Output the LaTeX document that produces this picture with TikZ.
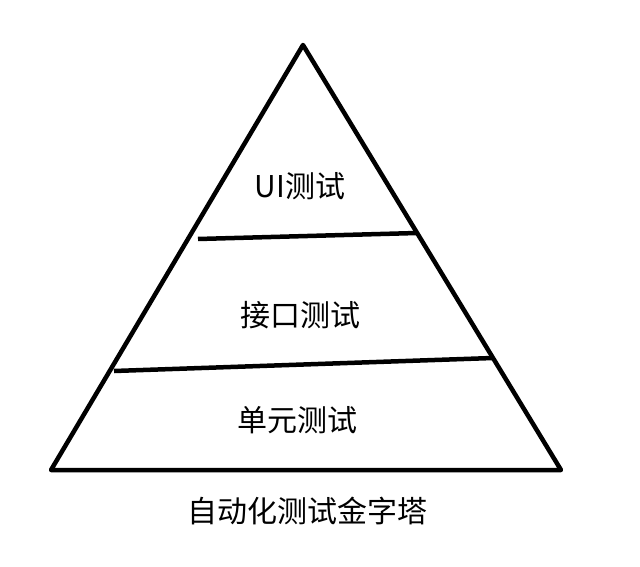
\documentclass[tikz,border=0pt]{standalone}
\usepackage{fontspec}
\newfontfamily\cjk{Noto Sans CJK SC}
\begin{document}
\begin{tikzpicture}[x=1pt,y=-1pt,
  edge/.style={line width=4.5pt,line join=round,line cap=round},
  lbl/.style={font=\cjk\fontsize{30}{33}\selectfont,inner sep=0pt}]
\useasboundingbox (0,0) rectangle (640,567);
\coordinate (top) at (303,45);
\coordinate (bl) at (51,470);
\coordinate (br) at (561,470);
\coordinate (a1) at (198,239);
\coordinate (a2) at (417,233);
\coordinate (b1) at (114,371);
\coordinate (b2) at (493,358);
\draw[edge] (top) -- (br) -- (bl) -- cycle;
\draw[edge,line cap=butt] (a1) -- (a2);
\draw[edge,line cap=butt] (b1) -- (b2);
\node[lbl] (ui) at (300,186) {UI测试};
\node[lbl] (api) at (300,315) {接口测试};
\node[lbl] (unit) at (297,420) {单元测试};
\node[lbl] (title) at (307,511) {自动化测试金字塔};
\end{tikzpicture}
\end{document}
